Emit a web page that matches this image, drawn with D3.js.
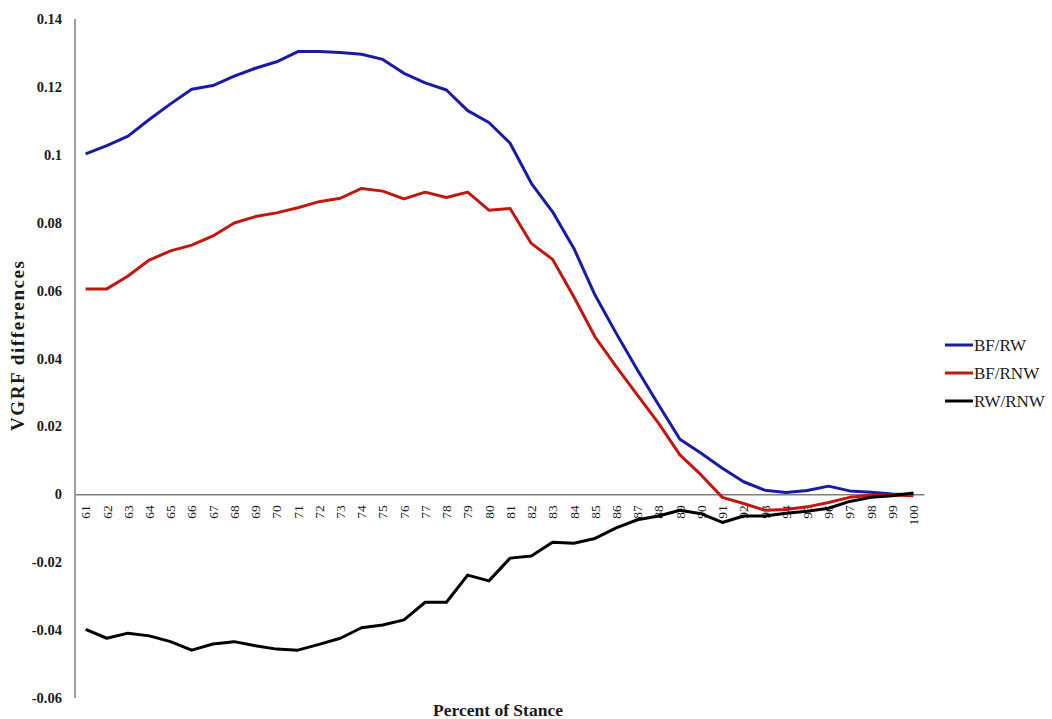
<!DOCTYPE html>
<html>
<head>
<meta charset="utf-8">
<script src="https://cdn.jsdelivr.net/npm/d3@7"></script>
<style>
  html, body { margin: 0; padding: 0; background: #fff; }
  svg { display: block; }
  text { font-family: "Liberation Serif", "Times New Roman", serif; fill: #1a1a1a; }
</style>
</head>
<body>
<svg id="chart" width="1052" height="719"></svg>
<script>
// Percent of stance (61–100)
const stance = d3.range(61, 101).map(String);

// VGRF differences per pair of conditions
const bfRw = [0.1003, 0.1027, 0.1055, 0.1104, 0.1150, 0.1193, 0.1204, 0.1232, 0.1255, 0.1274,
              0.1304, 0.1304, 0.1301, 0.1296, 0.1281, 0.1240, 0.1212, 0.1191, 0.1130, 0.1095,
              0.1034, 0.0916, 0.0832, 0.0725, 0.0587, 0.0474, 0.0366, 0.0263, 0.0162, 0.0121,
              0.0077, 0.0037, 0.0012, 0.0005, 0.0011, 0.0024, 0.0010, 0.0006, 0.0001, 0.0000];
const bfRnw = [0.0605, 0.0605, 0.0643, 0.0690, 0.0717, 0.0734, 0.0761, 0.0799, 0.0818, 0.0829,
               0.0844, 0.0862, 0.0872, 0.0901, 0.0893, 0.0870, 0.0890, 0.0874, 0.0890, 0.0837,
               0.0842, 0.0739, 0.0692, 0.0582, 0.0464, 0.0376, 0.0292, 0.0209, 0.0116, 0.0057,
               -0.0009, -0.0027, -0.0047, -0.0045, -0.0037, -0.0024, -0.0009, -0.0003, -0.0002, -0.0004];
const rwRnw = [-0.0398, -0.0424, -0.0409, -0.0417, -0.0434, -0.0459, -0.0441, -0.0434, -0.0446, -0.0456,
               -0.0459, -0.0442, -0.0424, -0.0393, -0.0385, -0.0370, -0.0318, -0.0318, -0.0238, -0.0255,
               -0.0188, -0.0182, -0.0141, -0.0144, -0.0130, -0.0099, -0.0075, -0.0064, -0.0047, -0.0057,
               -0.0083, -0.0064, -0.0064, -0.0056, -0.0050, -0.0041, -0.0021, -0.0009, -0.0004, 0.0004];

const seriesNames = ["BF/RW", "BF/RNW", "RW/RNW"];
const seriesColors = ["#1a1aa8", "#c0180e", "#000000"];
const seriesValues = [bfRw, bfRnw, rwRnw];

const yTicks = [0.14, 0.12, 0.1, 0.08, 0.06, 0.04, 0.02, 0, -0.02, -0.04, -0.06];

const svg = d3.select("#chart");
const plotLeft = 75, plotRight = 924, plotTop = 19, plotBottom = 698;

const x = d3.scaleBand().domain(stance).range([plotLeft, plotRight]);
const y = d3.scaleLinear().domain([-0.06, 0.14]).range([plotBottom, plotTop]);

// Vertical value axis (line only, labels to the left)
svg.append("line")
  .attr("x1", plotLeft).attr("x2", plotLeft)
  .attr("y1", y(0.14)).attr("y2", y(-0.06))
  .attr("stroke", "#7f7f7f").attr("stroke-width", 1.5);

svg.append("g").selectAll("text")
  .data(yTicks)
  .join("text")
  .attr("x", 62)
  .attr("y", d => y(d))
  .attr("dy", "0.35em")
  .attr("text-anchor", "end")
  .attr("font-size", 14.5)
  .attr("font-weight", "bold")
  .text(d => String(d));

// Category axis along zero
const xAxis = svg.append("g")
  .attr("transform", `translate(0,${y(0)})`)
  .call(d3.axisBottom(x).tickSize(0).tickPadding(0));
xAxis.select(".domain").attr("stroke", "#7f7f7f").attr("stroke-width", 1.5);
xAxis.selectAll(".tick text")
  .attr("transform", "rotate(-90)")
  .attr("text-anchor", "end")
  .attr("x", -11)
  .attr("y", 0)
  .attr("dy", "0.35em")
  .attr("font-family", "Liberation Serif, serif")
  .attr("font-size", 13.5)
  .attr("fill", "#1a1a1a");

// Series lines
const line = d3.line()
  .x((d, i) => x(stance[i]) + x.bandwidth() / 2)
  .y(d => y(d));

svg.append("g").selectAll("path")
  .data(seriesValues)
  .join("path")
  .attr("d", d => line(d))
  .attr("fill", "none")
  .attr("stroke", (d, i) => seriesColors[i])
  .attr("stroke-width", 3)
  .attr("stroke-linejoin", "round");

// Axis titles
svg.append("text")
  .attr("x", 498).attr("y", 716)
  .attr("text-anchor", "middle")
  .attr("font-size", 17.5)
  .attr("font-weight", "bold")
  .text("Percent of Stance");

svg.append("text")
  .attr("transform", "translate(24,346) rotate(-90)")
  .attr("text-anchor", "middle")
  .attr("font-size", 19)
  .attr("font-weight", "bold")
  .attr("textLength", 170)
  .attr("lengthAdjust", "spacing")
  .text("VGRF differences");

// Legend
const legend = svg.append("g").selectAll("g")
  .data(seriesNames)
  .join("g")
  .attr("transform", (d, i) => `translate(945,${345 + i * 28})`);
legend.append("line")
  .attr("x1", 0).attr("x2", 28)
  .attr("stroke", (d, i) => seriesColors[i])
  .attr("stroke-width", 3);
legend.append("text")
  .attr("x", 29)
  .attr("dy", "0.35em")
  .attr("font-size", 17)
  .text(d => d);
</script>
</body>
</html>
